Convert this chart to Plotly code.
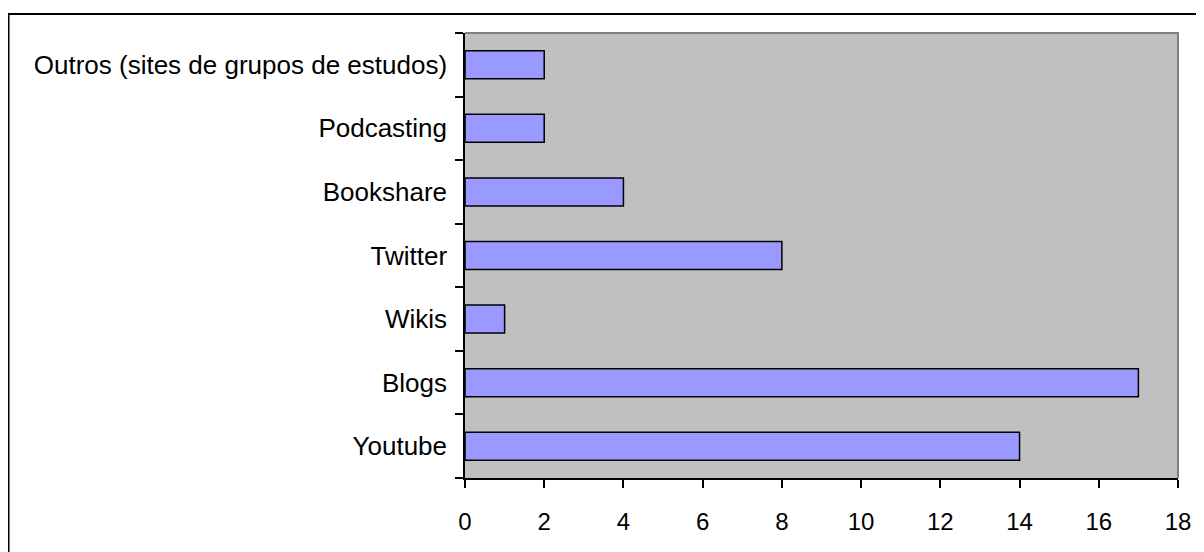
import plotly.graph_objects as go

categories = ["Youtube", "Blogs", "Wikis", "Twitter", "Bookshare", "Podcasting",
              "Outros (sites de grupos de estudos)"]
values = [14, 17, 1, 8, 4, 2, 2]
x_ticks = [0, 2, 4, 6, 8, 10, 12, 14, 16, 18]

# page body has an 8px margin, so the figure starts at (8, 8)
OFF = 8
W, H = 1204 - OFF, 552 - OFF
L, R, T, B = 465 - OFF, 26, 33 - OFF, 74
pw, ph = W - L - R, H - T - B

fig = go.Figure(go.Bar(
    x=values, y=categories, orientation="h", width=0.44,
    marker=dict(color="#9999FF", line=dict(color="#000000", width=1.5)),
))

def px_x(p):
    return (p - OFF - L) / pw

def px_y(p):
    return (H - B - (p - OFF)) / ph

fig.update_layout(
    width=W, height=H,
    margin=dict(l=L, r=R, t=T, b=B),
    paper_bgcolor="white", plot_bgcolor="#C0C0C0",
    font=dict(family="Liberation Sans, Arial, sans-serif", color="#000000"),
    showlegend=False,
    xaxis=dict(range=[0, 18], tickvals=x_ticks, ticks="outside", ticklen=8,
               tickwidth=1.5, tickcolor="#000", showgrid=False, zeroline=False,
               showline=True, linecolor="#000", linewidth=1.5,
               tickfont=dict(size=24), ticklabelstandoff=13),
    yaxis=dict(categoryorder="array", categoryarray=categories, range=[-0.5, 6.5],
               tickson="boundaries", ticks="outside", ticklen=8, tickwidth=1.5,
               tickcolor="#000", showgrid=False, zeroline=False, showline=True,
               linecolor="#000", linewidth=1.5, tickfont=dict(size=26),
               ticklabelstandoff=11),
    shapes=[
        dict(type="path", xref="paper", yref="paper",
             path="M 0,1 L 1,1 L 1,0", line=dict(color="#808080", width=2)),
        dict(type="rect", xref="paper", yref="paper",
             x0=px_x(8.5), x1=px_x(1210), y0=px_y(560), y1=px_y(14),
             line=dict(color="#000000", width=2)),
    ],
)

fig.write_html("out.html")
